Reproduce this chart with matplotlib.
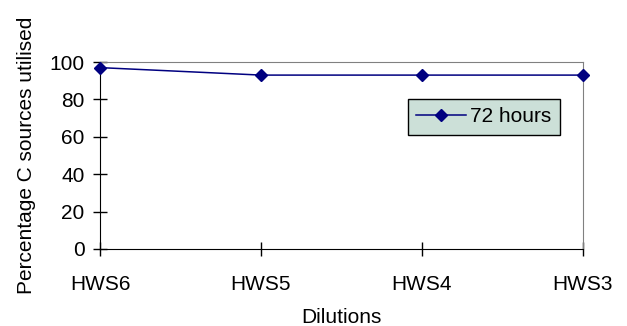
import matplotlib.pyplot as plt

plt.rcParams['font.family'] = ['Liberation Sans', 'DejaVu Sans']

dilutions = ["HWS6", "HWS5", "HWS4", "HWS3"]
utilised = [97, 93, 93, 93]

fig = plt.figure(figsize=(6.27, 3.26), dpi=100)
ax = fig.add_axes([0.1595, 0.2362, 0.7703, 0.5736])

x = list(range(len(dilutions)))
ax.plot(x, utilised, color="#000080", lw=1.1, marker="D", markersize=6.5,
        label="72 hours", clip_on=False, zorder=3)

ax.set_xlim(0, len(dilutions) - 1)
ax.set_ylim(0, 100)
ax.set_xticks(x)
ax.set_xticklabels(dilutions)
ax.set_yticks(range(0, 101, 20))

for side in ["top", "right"]:
    ax.spines[side].set_color("#808080")
for side in ["left", "bottom"]:
    ax.spines[side].set_color("black")
ax.tick_params(axis="both", direction="inout", length=10, width=1,
               labelsize=15, colors="black")
ax.tick_params(axis="x", pad=14)
ax.tick_params(axis="y", pad=6)

ax.set_ylabel("Percentage C sources utilised", fontsize=15, labelpad=10)
ax.set_xlabel("Dilutions", fontsize=15, labelpad=10)

leg = ax.legend(loc="upper left", bbox_to_anchor=(0.616, 0.858), fontsize=15,
                frameon=True, fancybox=False, borderpad=0.4,
                handlelength=2.4, handletextpad=0.2, markerscale=0.9)
leg.get_frame().set_facecolor("#CCE0D8")
leg.get_frame().set_edgecolor("black")
leg.get_frame().set_alpha(1)
leg.get_frame().set_linewidth(1)

fig.savefig("out.png", dpi=100)
